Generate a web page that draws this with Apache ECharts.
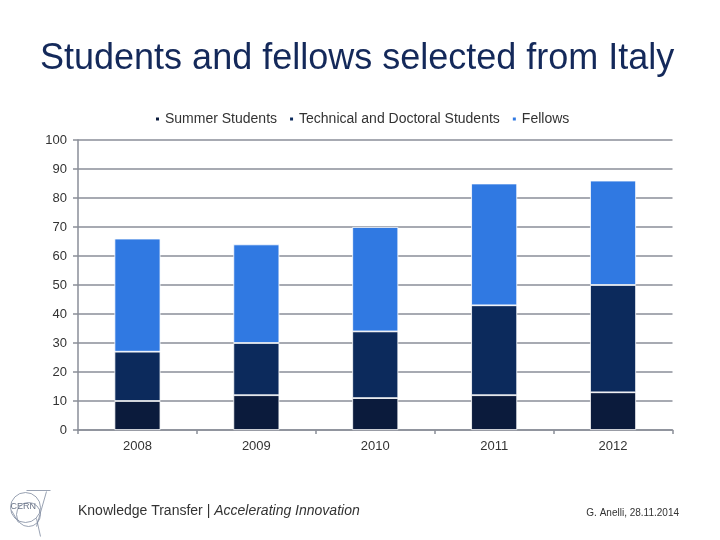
<!DOCTYPE html>
<html><head><meta charset="utf-8">
<script src="https://cdn.jsdelivr.net/npm/echarts@6/dist/echarts.min.js"></script>
<style>html,body{margin:0;padding:0;background:#fff}#c{width:720px;height:540px}</style>
</head><body><div id="c"></div>
<script>
const years = ['2008', '2009', '2010', '2011', '2012'];
const summerStudents = [10, 12, 11, 12, 13];
const technicalDoctoral = [17, 18, 23, 31, 37];
const fellows = [39, 34, 36, 42, 36];
const yTicks = [0, 10, 20, 30, 40, 50, 60, 70, 80, 90, 100];

const chart = echarts.init(document.getElementById('c'), null, {renderer: 'canvas'});
const F = '"Liberation Sans", Arial, sans-serif';
const gray = '#8a8e98';
function mk(name, data, color) {
  return {
    name: name, type: 'bar', stack: 's', data: data, barWidth: 46,
    itemStyle: {color: color, borderColor: '#ffffff', borderWidth: 0.8},
    emphasis: {disabled: true}
  };
}
chart.setOption({
  animation: false,
  backgroundColor: '#ffffff',
  title: {
    text: 'Students and fellows selected from Italy',
    left: 35, top: 36,
    textStyle: {fontFamily: F, fontSize: 36, fontWeight: 'normal', color: '#14295a'}
  },
  legend: {
    left: 149, top: 107, icon: 'rect', itemWidth: 5, itemHeight: 5, itemGap: 11,
    textStyle: {fontFamily: F, fontSize: 14, color: '#333'},
    data: ['Summer Students', 'Technical and Doctoral Students', 'Fellows']
  },
  grid: {left: 78, right: 47.5, top: 140, bottom: 110, containLabel: false},
  xAxis: {
    type: 'category', data: years,
    axisLine: {lineStyle: {color: gray, width: 1.5}},
    axisTick: {show: true, length: 4, lineStyle: {color: gray, width: 1.5}},
    axisLabel: {fontFamily: F, fontSize: 13, color: '#333', margin: 10}
  },
  yAxis: {
    type: 'value', min: yTicks[0], max: yTicks[yTicks.length - 1], interval: 10,
    axisLine: {show: true, lineStyle: {color: gray, width: 1.5}},
    axisTick: {show: true, length: 5, lineStyle: {color: gray, width: 1.5}},
    splitLine: {lineStyle: {color: gray, width: 1.5}},
    axisLabel: {fontFamily: F, fontSize: 13, color: '#333', margin: 11}
  },
  series: [
    mk('Summer Students', summerStudents, '#0b1b3c'),
    mk('Technical and Doctoral Students', technicalDoctoral, '#0c2a5c'),
    mk('Fellows', fellows, '#3079e2')
  ],
  graphic: [
    {type: 'text', left: 78, top: 504, style: {
      text: '{a|Knowledge Transfer | }{b|Accelerating Innovation}',
      rich: {
        a: {fontFamily: F, fontSize: 14, fill: '#333', color: '#333'},
        b: {fontFamily: F, fontSize: 14, fontStyle: 'italic', fill: '#333', color: '#333'}
      }
    }},
    {type: 'text', right: 41, top: 508, style: {text: 'G. Anelli, 28.11.2014', font: '10px ' + F, fill: '#333'}},
    {type: 'group', left: 8, top: 488, children: [
      {type: 'circle', shape: {cx: 19, cy: 19, r: 15}, style: {fill: 'none', stroke: '#7f8aa0', lineWidth: 0.8}},
      {type: 'circle', shape: {cx: 22, cy: 26, r: 12}, style: {fill: 'none', stroke: '#7f8aa0', lineWidth: 0.8}},
      {type: 'line', shape: {x1: 20, y1: 2, x2: 44, y2: 2}, style: {stroke: '#7f8aa0', lineWidth: 0.8}},
      {type: 'line', shape: {x1: 40, y1: 3, x2: 30, y2: 38}, style: {stroke: '#7f8aa0', lineWidth: 0.8}},
      {type: 'line', shape: {x1: 30, y1: 30, x2: 34, y2: 48}, style: {stroke: '#7f8aa0', lineWidth: 0.8}},
      {type: 'line', shape: {x1: 5, y1: 22, x2: 12, y2: 34}, style: {stroke: '#7f8aa0', lineWidth: 0.8}},
      {type: 'text', x: 4, y: 14, style: {text: 'CERN', font: '9px ' + F, fill: '#6a7488'}}
    ]}
  ]
});
</script></body></html>
